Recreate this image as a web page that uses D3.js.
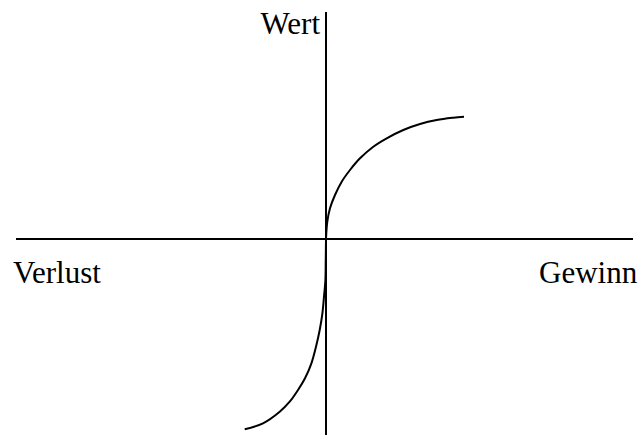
<!DOCTYPE html>
<html>
<head>
<meta charset="utf-8">
<script src="https://cdn.jsdelivr.net/npm/d3@7"></script>
<style>
  html, body { margin: 0; padding: 0; background: #fff; }
  svg { display: block; }
</style>
</head>
<body>
<script>
// value function (prospect theory)
var gainX = [0, 0.13, 0.4, 0.9, 1.57, 2.4, 3.4, 4.73, 6.07, 7.73, 9.4, 11.07, 12.73, 13.8];
var gainY = [0, 1.73, 3.07, 4.4, 5.73, 6.9, 8.07, 9.23, 10.07, 10.9, 11.5, 11.9, 12.13, 12.23];

var lossX = [0, -0.03, -0.06, -0.2, -0.36, -0.63, -1, -1.46, -2.1, -2.8, -3.63, -4.63, -6.3, -8.13];
var lossY = [0, -2.4, -4.1, -5.77, -7.43, -9.1, -10.77, -12.43, -13.93, -15.1, -16.27, -17.27, -18.43, -19.03];

var xExtent = [-31, 30.7];
var yExtent = [-19.6, 22.7];

var labels = { y: "Wert", left: "Verlust", right: "Gewinn" };

var width = 641, height = 436;

var x = d3.scaleLinear().domain([-31, 31]).range([16, 636]);
var y = d3.scaleLinear().domain(yExtent).range([435, 12]);

var svg = d3.select("body")
  .append("svg")
  .attr("width", width)
  .attr("height", height);

// axes
svg.append("line")
  .attr("x1", x(xExtent[0]))
  .attr("x2", x(xExtent[1]))
  .attr("y1", y(0))
  .attr("y2", y(0))
  .attr("stroke", "black")
  .attr("stroke-width", 2);

svg.append("line")
  .attr("x1", x(0))
  .attr("x2", x(0))
  .attr("y1", y(yExtent[0]))
  .attr("y2", y(yExtent[1]))
  .attr("stroke", "black")
  .attr("stroke-width", 2);

var line = d3.line()
  .x(function(d){ return x(d[0]); })
  .y(function(d){ return y(d[1]); })
  .curve(d3.curveCatmullRom);

var gains = gainX.map(function(v, i){ return [v, gainY[i]]; });
var losses = lossX.map(function(v, i){ return [v, lossY[i]]; });

[gains, losses].forEach(function(pts){
  svg.append("path")
    .attr("d", line(pts))
    .attr("fill", "none")
    .attr("stroke", "black")
    .attr("stroke-width", 2);
});

var font = "'Times New Roman', 'Liberation Serif', serif";

svg.append("text")
  .attr("x", x(0) - 6)
  .attr("y", 34)
  .attr("text-anchor", "end")
  .attr("font-family", font)
  .attr("font-size", "31px")
  .text(labels.y);

svg.append("text")
  .attr("x", 13)
  .attr("y", 283)
  .attr("font-family", font)
  .attr("font-size", "31px")
  .text(labels.left);

svg.append("text")
  .attr("x", 539)
  .attr("y", 283)
  .attr("font-family", font)
  .attr("font-size", "31px")
  .text(labels.right);
</script>
</body>
</html>
